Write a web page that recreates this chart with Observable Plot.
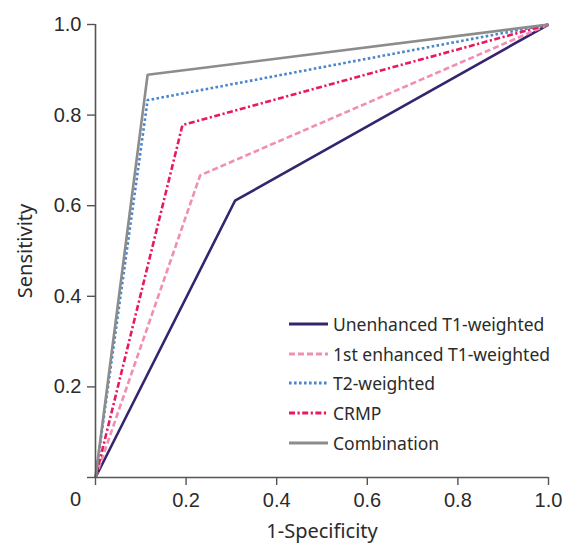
<!DOCTYPE html>
<html>
<head>
<meta charset="utf-8">
<script src="https://cdn.jsdelivr.net/npm/d3@7"></script>
<script src="https://cdn.jsdelivr.net/npm/@observablehq/plot@0.6"></script>
<style>
  body { margin: 0; background: #fff; }
  #wrap { position: relative; width: 565px; height: 543px; }
  #wrap svg g[aria-label="x-axis tick label"] text, #wrap svg g[aria-label="y-axis tick label"] text, #wrap svg g[aria-label="text"] text { font-family: "Liberation Sans", Arial, sans-serif; }
  #wrap svg [aria-label="x-axis label"], #wrap svg [aria-label="y-axis label"] { font-family: "Noto Sans", sans-serif; }
  #legend { position: absolute; left: 289px; top: 309px; font-family: "Noto Sans", sans-serif; font-size: 17.5px; color: #2b2b2b; }
  #legend .row { display: flex; align-items: center; height: 29.8px; }
  #legend svg { margin-right: 5px; }
</style>
</head>
<body>
<div id="wrap"></div>
<script>
const series = ["Unenhanced T1-weighted", "1st enhanced T1-weighted", "T2-weighted", "CRMP", "Combination"];
const fpr = [0.308, 0.231, 0.115, 0.192, 0.115];   // 1-Specificity at the operating point
const tpr = [0.611, 0.667, 0.833, 0.778, 0.889];   // Sensitivity at the operating point
const colors = ["#35256f", "#f28db3", "#4a86cc", "#e8195f", "#8c8c8c"];
const dashes = [null, "6,3", "2.6,2.4", "6,2.5,2.2,2.5", null];
const ticks = [0, 0.2, 0.4, 0.6, 0.8, 1.0];

const rows = series.map((s, i) => [
  {series: s, x: 0, y: 0},
  {series: s, x: fpr[i], y: tpr[i]},
  {series: s, x: 1, y: 1}
]);

const drawOrder = [0, 1, 2, 3, 4];
const lineMarks = drawOrder.map(i => Plot.line(rows[i], {
  x: "x", y: "y",
  stroke: colors[i],
  strokeWidth: 2.6,
  strokeDasharray: dashes[i] || undefined,
  strokeLinejoin: "miter",
  strokeLinecap: "butt"
}));

const fmt = d => d === 0 ? "" : d.toFixed(1);

const chart = Plot.plot({
  width: 565,
  height: 543,
  marginLeft: 95,
  marginRight: 17,
  marginTop: 24,
  marginBottom: 66,
  x: {domain: [0, 1]},
  y: {domain: [0, 1]},
  style: {fontFamily: "'Liberation Sans', Arial, sans-serif", color: "#2b2b2b", background: "white"},
  marks: [
    ...lineMarks,
    Plot.ruleY([0], {stroke: "#555", strokeWidth: 1.6}),
    Plot.ruleX([0], {stroke: "#555", strokeWidth: 1.6}),
    Plot.axisX({
      ticks: ticks, tickFormat: fmt, tickSize: 8, tickPadding: 7,
      stroke: "#555", strokeWidth: 1.4, fontSize: 20,
      label: "1-Specificity", labelAnchor: "center", labelArrow: "none", labelOffset: 60
    }),
    Plot.axisY({
      ticks: ticks, tickFormat: fmt, tickSize: 8, tickPadding: 6,
      stroke: "#555", strokeWidth: 1.4, fontSize: 20,
      label: "Sensitivity", labelAnchor: "center", labelArrow: "none", labelOffset: 78
    }),
    Plot.text([{x: 0, y: 0, t: "0"}], {
      x: "x", y: "y", text: "t", fontSize: 20, dx: -20, dy: 22, textAnchor: "middle", fill: "#2b2b2b"
    })
  ]
});

const wrap = document.getElementById("wrap");
wrap.appendChild(chart);

const legend = document.createElement("div");
legend.id = "legend";
series.forEach((s, i) => {
  const row = document.createElement("div");
  row.className = "row";
  const ns = "http://www.w3.org/2000/svg";
  const sv = document.createElementNS(ns, "svg");
  sv.setAttribute("width", "39");
  sv.setAttribute("height", "6");
  const ln = document.createElementNS(ns, "line");
  ln.setAttribute("x1", "0"); ln.setAttribute("x2", "39");
  ln.setAttribute("y1", "3"); ln.setAttribute("y2", "3");
  ln.setAttribute("stroke", colors[i]);
  ln.setAttribute("stroke-width", "2.8");
  if (dashes[i]) ln.setAttribute("stroke-dasharray", dashes[i]);
  sv.appendChild(ln);
  const tx = document.createElement("span");
  tx.textContent = s;
  row.appendChild(sv);
  row.appendChild(tx);
  legend.appendChild(row);
});
wrap.appendChild(legend);
</script>
</body>
</html>
